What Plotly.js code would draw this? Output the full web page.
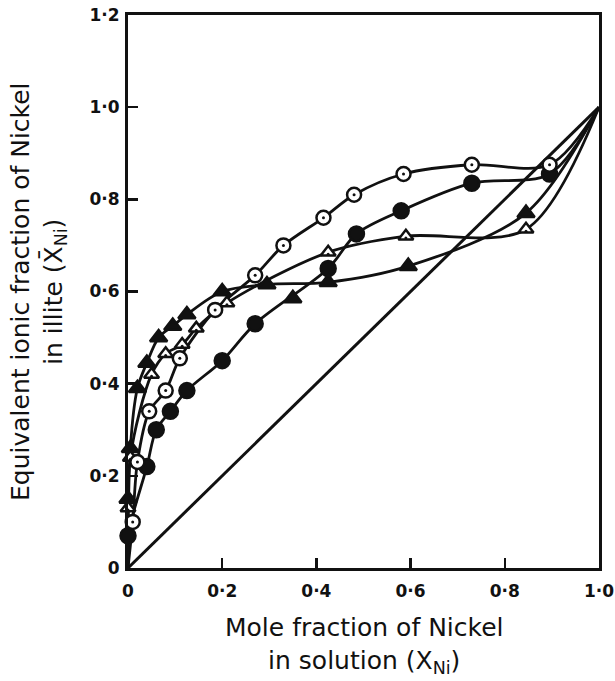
<!DOCTYPE html>
<html><head><meta charset="utf-8">
<script src="https://cdn.plot.ly/plotly-3.0.1.min.js"></script>
<style>html,body{margin:0;padding:0;background:#fff}#chart{width:615px;height:681px}</style>
</head><body><div id="chart"></div>
<script>
// Tick labels
const xTickVals = [0, 0.2, 0.4, 0.6, 0.8, 1.0];
const xTickText = ['0', '0·2', '0·4', '0·6', '0·8', '1·0'];
const yTickVals = [0, 0.2, 0.4, 0.6, 0.8, 1.0, 1.2];
const yTickText = ['0', '0·2', '0·4', '0·6', '0·8', '1·0', '1·2'];

// Open circles with dot
const openCircleX = [0.01, 0.02, 0.045, 0.08, 0.11, 0.185, 0.27, 0.33, 0.415, 0.48, 0.585, 0.73, 0.895];
const openCircleY = [0.10, 0.23, 0.34, 0.385, 0.455, 0.56, 0.635, 0.70, 0.76, 0.81, 0.855, 0.875, 0.875];
// Filled circles
const filledCircleX = [0.0, 0.04, 0.06, 0.09, 0.125, 0.20, 0.27, 0.425, 0.485, 0.58, 0.73, 0.895];
const filledCircleY = [0.07, 0.22, 0.30, 0.34, 0.385, 0.45, 0.53, 0.65, 0.725, 0.775, 0.835, 0.855];
// Open triangles
const openTriX = [0.0, 0.005, 0.05, 0.08, 0.115, 0.145, 0.21, 0.425, 0.59, 0.845];
const openTriY = [0.13, 0.24, 0.42, 0.465, 0.485, 0.52, 0.575, 0.685, 0.72, 0.735];
// Filled triangles
const filledTriX = [0.0, 0.005, 0.02, 0.04, 0.065, 0.095, 0.125, 0.20, 0.295, 0.35, 0.425, 0.595, 0.845];
const filledTriY = [0.15, 0.26, 0.39, 0.445, 0.50, 0.525, 0.55, 0.60, 0.615, 0.585, 0.62, 0.655, 0.77];

// Fitted curves
const openCircleCurveX = [0, 0.01, 0.02, 0.045, 0.08, 0.11, 0.185, 0.27, 0.33, 0.415, 0.48, 0.585, 0.73, 0.895, 1.0];
const openCircleCurveY = [0, 0.10, 0.23, 0.34, 0.385, 0.455, 0.56, 0.635, 0.70, 0.76, 0.81, 0.855, 0.875, 0.875, 1.0];
const filledCircleCurveX = [0, 0.0, 0.04, 0.06, 0.09, 0.125, 0.20, 0.27, 0.425, 0.485, 0.58, 0.73, 0.895, 1.0];
const filledCircleCurveY = [0, 0.07, 0.22, 0.30, 0.34, 0.385, 0.45, 0.53, 0.65, 0.725, 0.775, 0.835, 0.855, 1.0];
const openTriCurveX = [0, 0.005, 0.05, 0.08, 0.115, 0.145, 0.21, 0.425, 0.59, 0.845, 1.0];
const openTriCurveY = [0, 0.24, 0.42, 0.465, 0.485, 0.52, 0.575, 0.685, 0.72, 0.735, 1.0];
const filledTriCurveX = [0, 0.005, 0.02, 0.04, 0.065, 0.095, 0.125, 0.20, 0.295, 0.425, 0.595, 0.845, 1.0];
const filledTriCurveY = [0, 0.26, 0.39, 0.445, 0.50, 0.525, 0.55, 0.60, 0.615, 0.62, 0.655, 0.77, 1.0];

// Diagonal reference line
const diagX = [0, 1];
const diagY = [0, 1];

const ink = '#111';
function curve(x, y) {
  return {x, y, mode: 'lines', type: 'scatter', hoverinfo: 'skip',
    line: {color: ink, width: 2.8, shape: 'spline', smoothing: 0.9}};
}
function markers(x, y, symbol, fill, size) {
  return {x, y, mode: 'markers', type: 'scatter', cliponaxis: false,
    marker: {symbol, size, color: fill, line: {color: ink, width: 2.5}}};
}
function dots(x, y) {
  return {x, y, mode: 'markers', type: 'scatter', cliponaxis: false,
    marker: {symbol: 'circle', size: 3, color: ink, line: {width: 0}}};
}

const data = [
  {x: diagX, y: diagY, mode: 'lines', type: 'scatter', line: {color: ink, width: 3}},
  curve(openCircleCurveX, openCircleCurveY),
  curve(filledCircleCurveX, filledCircleCurveY),
  curve(openTriCurveX, openTriCurveY),
  curve(filledTriCurveX, filledTriCurveY),
  markers(filledCircleX, filledCircleY, 'circle', ink, 15),
  markers(filledTriX, filledTriY, 'triangle-up', ink, 15),
  markers(openTriX, openTriY, 'triangle-up', '#fff', 13),
  markers(openCircleX, openCircleY, 'circle', '#fff', 14),
  dots(openCircleX, openCircleY),
  dots(openTriX, openTriY.map(v => v - 0.004))
];

const axisCommon = {
  showgrid: false, zeroline: false, showline: true, mirror: true,
  linecolor: ink, linewidth: 3, ticks: 'inside', ticklen: 10, tickwidth: 2.5, tickcolor: ink,
  tickmode: 'array', fixedrange: true, ticklabeloverflow: 'allow',
  tickfont: {family: 'DejaVu Sans', size: 17, color: ink, weight: 'bold'}
};

const layout = {
  width: 615, height: 681,
  margin: {l: 128, r: 16, t: 15, b: 113},
  paper_bgcolor: '#fff', plot_bgcolor: '#fff',
  showlegend: false,
  xaxis: Object.assign({}, axisCommon, {range: [0, 1], tickvals: xTickVals, ticktext: xTickText, ticklabelstandoff: 6}),
  yaxis: Object.assign({}, axisCommon, {range: [0, 1.2], tickvals: yTickVals, ticktext: yTickText, ticklabelstandoff: 2}),
  annotations: [
    {text: 'Mole fraction of Nickel<br>in solution (X<sub>Ni</sub>)', xref: 'paper', yref: 'paper',
     x: 0.5, y: -0.14, xanchor: 'center', yanchor: 'middle', showarrow: false,
     font: {family: 'DejaVu Sans', size: 25, color: ink}},
    {text: 'Equivalent ionic fraction of Nickel<br>in illite (X\u0304<sub>Ni</sub>)', xref: 'paper', yref: 'paper',
     x: -0.19, y: 0.5, xanchor: 'center', yanchor: 'middle', textangle: -90, showarrow: false,
     font: {family: 'DejaVu Sans', size: 25, color: ink}}
  ]
};

Plotly.newPlot('chart', data, layout, {displayModeBar: false, staticPlot: true});
</script>
</body></html>
